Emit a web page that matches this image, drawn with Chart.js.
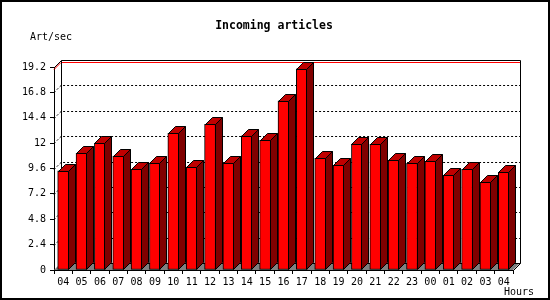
<!DOCTYPE html>
<html>
<head>
<meta charset="utf-8">
<script src="https://cdn.jsdelivr.net/npm/chart.js@4.4.1/dist/chart.umd.min.js"></script>
<style>
  html, body { margin: 0; padding: 0; background: #fff; }
  canvas { display: block; }
</style>
</head>
<body>
<canvas id="chart" width="550" height="300"></canvas>
<script>
const hours = ['04', '05', '06', '07', '08', '09', '10', '11', '12', '13', '14', '15', '16',
    '17', '18', '19', '20', '21', '22', '23', '00', '01', '02', '03', '04'];
const artPerSec = [9.37, 11.04, 11.99, 10.78, 9.52, 10.09, 12.93, 9.74, 13.78, 10.09, 12.68, 12.27, 15.99,
    19.02, 10.56, 9.90, 11.92, 11.88, 10.38, 10.09, 10.28, 8.96, 9.52, 8.29, 9.24];
const yTicks = [0, 2.4, 4.8, 7.2, 9.6, 12, 14.4, 16.8, 19.2];
const yTickLabels = ['0', '2.4', '4.8', '7.2', '9.6', '12', '14.4', '16.8', '19.2'];

const DEPTH = 7;
const MONO = '"DejaVu Sans Mono", "Liberation Mono", monospace';

// back wall, floor, dotted grid and max line
const backPlane = {
    id: 'backPlane',
    beforeDatasetsDraw(chart) {
        const { ctx, chartArea: a, scales: { y } } = chart;
        const d = DEPTH;
        ctx.save();
        ctx.lineWidth = 1;

        // floor
        ctx.fillStyle = '#808080';
        ctx.beginPath();
        ctx.moveTo(a.left, a.bottom);
        ctx.lineTo(a.right, a.bottom);
        ctx.lineTo(a.right + d, a.bottom - d);
        ctx.lineTo(a.left + d, a.bottom - d);
        ctx.closePath();
        ctx.fill();

        // dotted grid on the back wall
        ctx.strokeStyle = '#000';
        ctx.setLineDash([2, 2]);
        yTicks.forEach(v => {
            if (v === 0 || v === y.max) return;
            const py = Math.round(y.getPixelForValue(v)) + 0.5;
            ctx.beginPath();
            ctx.moveTo(a.left, py);
            ctx.lineTo(a.left + d, py - d);
            ctx.lineTo(a.right + d, py - d);
            ctx.stroke();
        });
        ctx.setLineDash([]);

        // max value line
        const maxY = Math.round(y.getPixelForValue(Math.max(...artPerSec))) + 0.5;
        ctx.strokeStyle = '#ff0000';
        ctx.beginPath();
        ctx.moveTo(a.left, maxY);
        ctx.lineTo(a.left + d, maxY - d);
        ctx.lineTo(a.right + d, maxY - d);
        ctx.stroke();

        // back frame
        const top = Math.round(y.getPixelForValue(y.max)) + 0.5;
        const L = Math.round(a.left) + 0.5;
        const R = Math.round(a.right) + 0.5;
        const B = Math.round(a.bottom) + 0.5;
        ctx.strokeStyle = '#000';
        ctx.beginPath();
        ctx.moveTo(L, top);
        ctx.lineTo(L + d, top - d);
        ctx.lineTo(R + d, top - d);
        ctx.lineTo(R + d, B - d);
        ctx.lineTo(R, B);
        ctx.moveTo(L + d, top - d);
        ctx.lineTo(L + d, B - d);
        ctx.lineTo(R + d, B - d);
        ctx.stroke();
        ctx.restore();
    },
    afterDatasetsDraw(chart) {
        const { ctx } = chart;
        const d = DEPTH;
        const meta = chart.getDatasetMeta(0);
        ctx.save();
        ctx.lineWidth = 1;
        ctx.strokeStyle = '#000';
        meta.data.forEach(bar => {
            const xl = Math.round(bar.x - bar.width / 2) + 0.5;
            const xr = Math.round(bar.x + bar.width / 2) - 0.5;
            const yt = Math.round(bar.y) + 0.5;
            const yb = Math.round(bar.base) - 0.5;
            // side
            ctx.fillStyle = '#800000';
            ctx.beginPath();
            ctx.moveTo(xr, yt);
            ctx.lineTo(xr + d, yt - d);
            ctx.lineTo(xr + d, yb - d);
            ctx.lineTo(xr, yb);
            ctx.closePath();
            ctx.fill();
            ctx.stroke();
            // top
            ctx.fillStyle = '#c00000';
            ctx.beginPath();
            ctx.moveTo(xl, yt);
            ctx.lineTo(xl + d, yt - d);
            ctx.lineTo(xr + d, yt - d);
            ctx.lineTo(xr, yt);
            ctx.closePath();
            ctx.fill();
            ctx.stroke();
        });
        ctx.restore();
    },
    afterDraw(chart) {
        const { ctx } = chart;
        ctx.save();
        ctx.fillStyle = '#000';
        ctx.textBaseline = 'middle';
        ctx.font = 'bold 11.5px ' + MONO;
        ctx.textAlign = 'center';
        ctx.fillText('Incoming articles', 274, 26.5);
        ctx.font = '10px ' + MONO;
        ctx.textAlign = 'left';
        ctx.fillText('Art/sec', 30, 37);
        ctx.fillText('Hours', 504, 292.5);
        // image frame
        ctx.strokeStyle = '#000';
        ctx.lineWidth = 2;
        ctx.strokeRect(1, 1, 548, 298);
        ctx.restore();
    }
};

new Chart(document.getElementById('chart'), {
    type: 'bar',
    data: {
        labels: hours,
        datasets: [{
            data: artPerSec,
            backgroundColor: '#ff0000',
            borderColor: '#000',
            borderWidth: 1,
            borderSkipped: false,
            barThickness: 11
        }]
    },
    options: {
        responsive: false,
        animation: false,
        devicePixelRatio: 1,
        layout: { padding: { left: 0, right: 37, top: 67, bottom: 0 } },
        plugins: {
            legend: { display: false },
            tooltip: { enabled: false },
            title: { display: false }
        },
        scales: {
            x: {
                afterFit: s => { s.height = 30; },
                border: { display: true, color: '#000', width: 1 },
                grid: { offset: true, drawOnChartArea: false, tickLength: 4, color: '#000' },
                ticks: { color: '#000', font: { family: MONO, size: 10 }, padding: 2, maxRotation: 0, autoSkip: false }
            },
            y: {
                min: 0,
                max: 19.2,
                afterFit: s => { s.width = 54; },
                afterBuildTicks: s => { s.ticks = yTicks.map(v => ({ value: v })); },
                border: { display: true, color: '#000', width: 1 },
                grid: { drawOnChartArea: false, tickLength: 4, color: '#000' },
                ticks: {
                    color: '#000',
                    font: { family: MONO, size: 10 },
                    padding: 4,
                    callback: (v, i) => yTickLabels[i]
                }
            }
        }
    },
    plugins: [backPlane]
});
</script>
</body>
</html>
